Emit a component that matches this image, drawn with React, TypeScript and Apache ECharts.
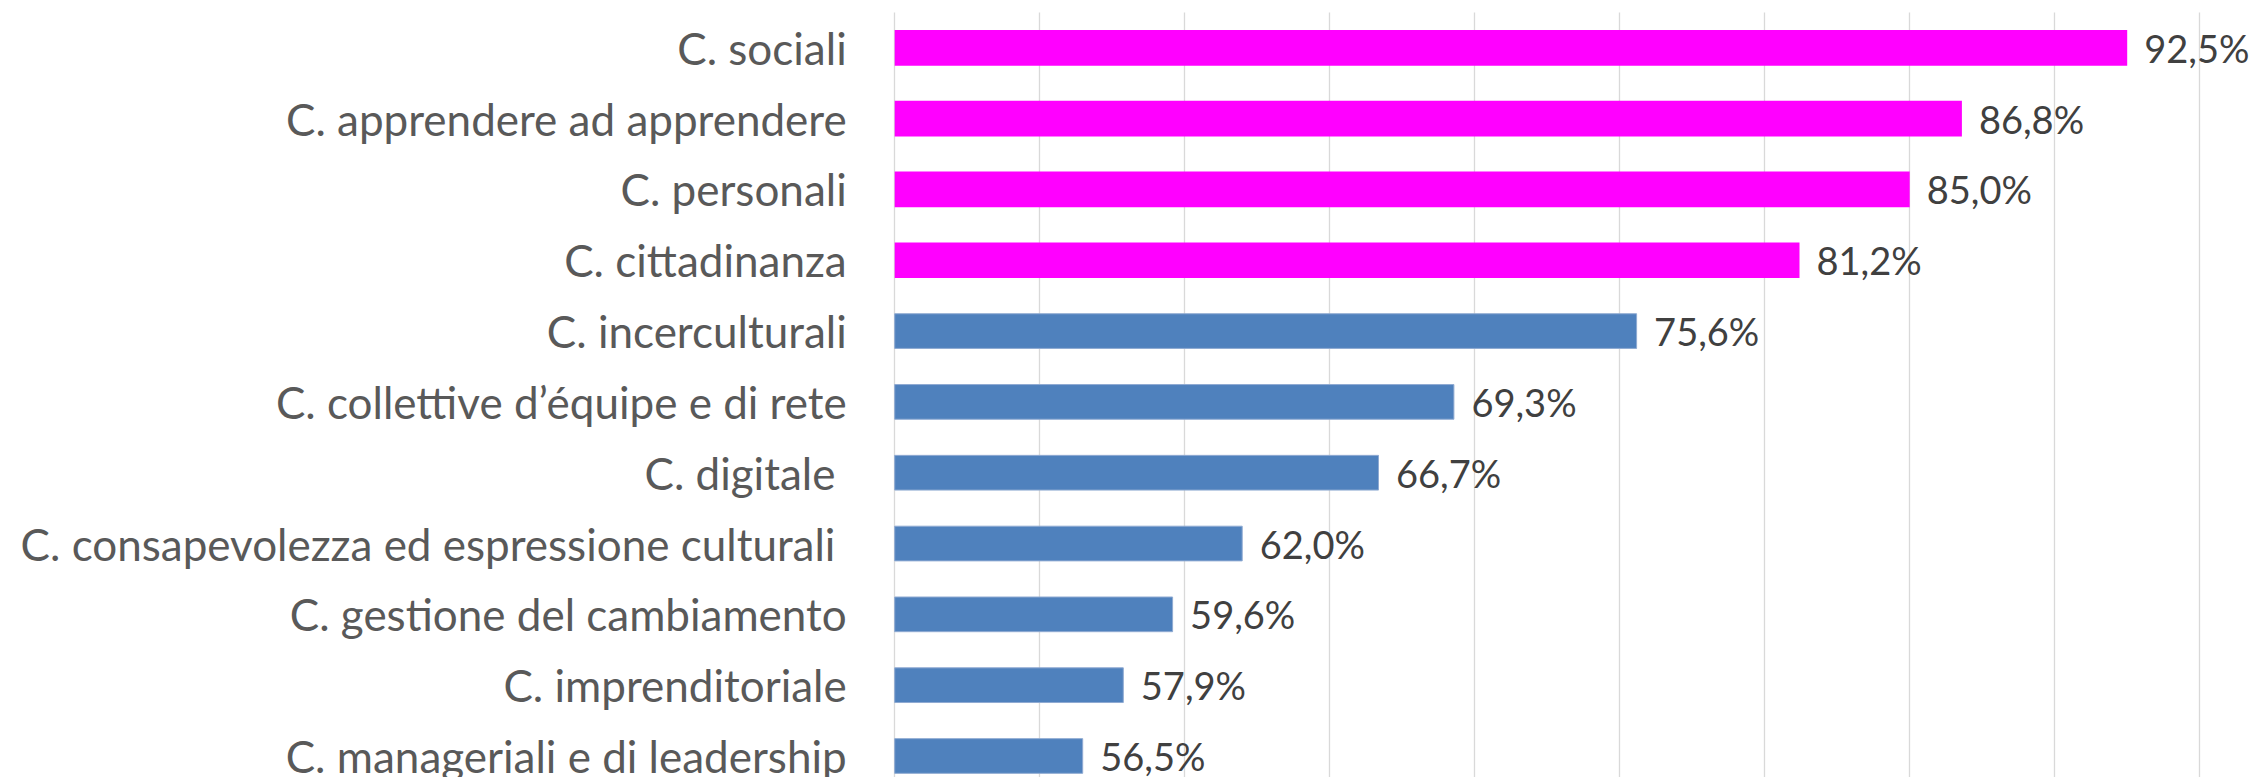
import React, { useEffect, useRef } from "react";
import * as echarts from "echarts";

const categories = [
  "C. sociali",
  "C. apprendere ad apprendere",
  "C. personali",
  "C. cittadinanza",
  "C. incerculturali",
  "C. collettive d’équipe e di rete",
  "C. digitale ",
  "C. consapevolezza ed espressione culturali ",
  "C. gestione del cambiamento",
  "C. imprenditoriale",
  "C. manageriali e di leadership",
];
const values = [92.5, 86.8, 85.0, 81.2, 75.6, 69.3, 66.7, 62.0, 59.6, 57.9, 56.5];
const highlighted = [true, true, true, true, false, false, false, false, false, false, false];
const axisMin = 50;
const axisMax = 95;
const axisInterval = 5;

const MAGENTA = "#FF00FF";
const BLUE = "#4F81BD";

export default function App() {
  const ref = useRef<HTMLDivElement>(null);
  useEffect(() => {
    if (!ref.current) return;
    const chart = echarts.init(ref.current, undefined, { renderer: "svg" });
    chart.setOption({
      animation: false,
      backgroundColor: "#ffffff",
      grid: {
        left: 894.7,
        right: 57.3,
        top: 12.4,
        height: 779,
        containLabel: false,
        outerBoundsMode: "none",
      },
      xAxis: {
        type: "value",
        min: axisMin,
        max: axisMax,
        interval: axisInterval,
        axisLabel: { show: false },
        axisLine: { show: false },
        axisTick: { show: false },
        splitLine: { show: true, lineStyle: { color: "#D9D9D9", width: 1.3 } },
      },
      yAxis: {
        type: "category",
        data: categories,
        inverse: true,
        axisLine: { show: false },
        axisTick: { show: false },
        splitLine: { show: false },
        axisLabel: {
          fontFamily: "Lato",
          fontSize: 44,
          color: "#595959",
          margin: 48,
        },
      },
      series: [
        {
          type: "bar",
          barCategoryGap: "49.6%",
          data: values.map((v, i) => ({
            value: v,
            itemStyle: highlighted[i]
              ? { color: MAGENTA }
              : { color: BLUE, borderColor: "#8FAAD2", borderWidth: 1 },
          })),
          label: {
            show: true,
            position: "right",
            distance: 17,
            fontFamily: "Lato",
            fontSize: 38,
            color: "#404040",
            formatter: (p: any) => p.value.toFixed(1).replace(".", ",") + "%",
          },
        },
      ],
    });
    return () => chart.dispose();
  }, []);
  return (
    <div
      ref={ref}
      style={{ position: "fixed", left: 0, top: 0, width: 2257, height: 800, background: "#fff" }}
    />
  );
}
